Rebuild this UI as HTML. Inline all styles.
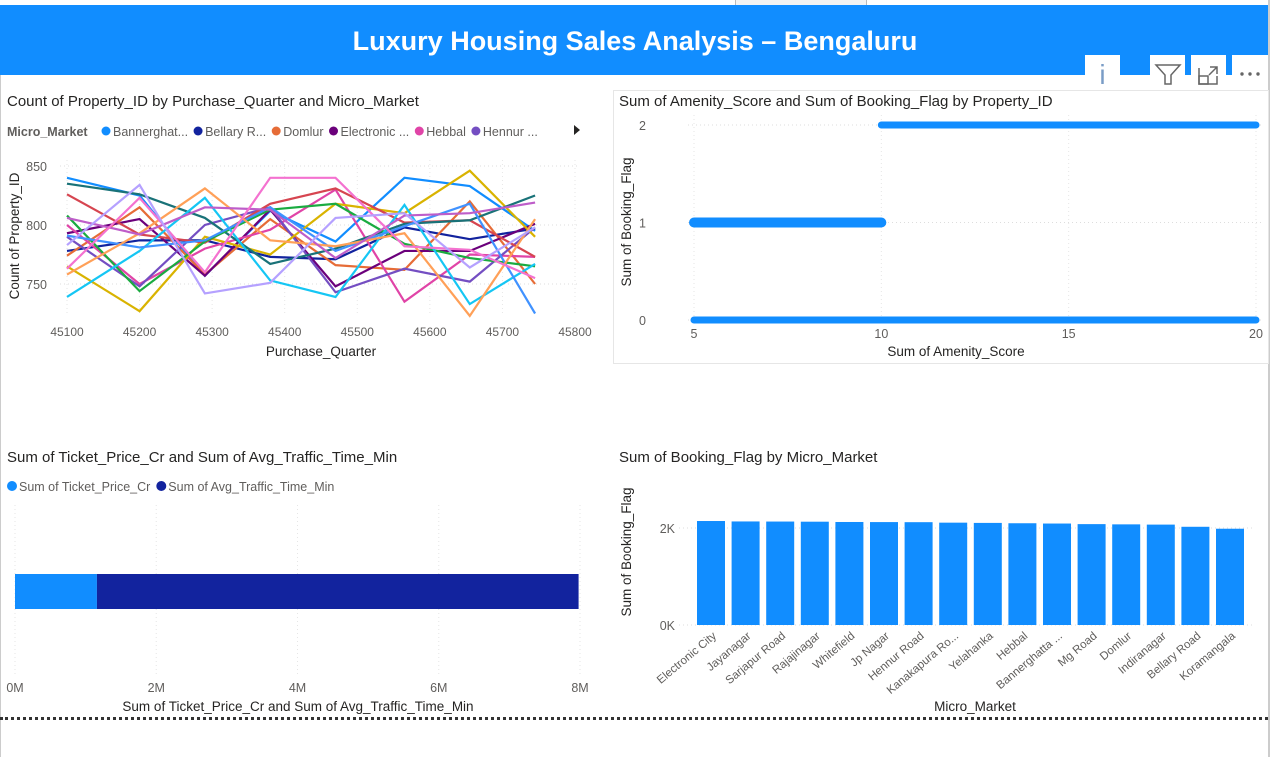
<!DOCTYPE html>
<html><head><meta charset="utf-8"><style>
body{margin:0;width:1278px;height:757px;background:#fff;font-family:"Liberation Sans",sans-serif;overflow:hidden;position:relative}
.t{position:absolute;font-size:15px;color:#252423;white-space:nowrap}
svg text{font-family:"Liberation Sans",sans-serif}
</style></head><body>
<div style="position:absolute;left:735px;top:0;width:130px;height:5px;border:1px solid #bbb;border-top:none;background:#f3f3f3"></div>
<div style="position:absolute;left:0;top:5px;width:1268px;height:70px;background:#118DFF"></div>
<div style="position:absolute;left:0;top:26px;width:1270px;text-align:center;color:#fff;font-weight:bold;font-size:27px">Luxury Housing Sales Analysis – Bengaluru</div>
<div style="position:absolute;left:1268px;top:0;width:2px;height:757px;background:#ccc"></div>
<div style="position:absolute;left:0;top:75px;width:1px;height:682px;background:#ccc"></div>
<div style="position:absolute;left:1085px;top:55px;width:35px;height:33px;background:#fff;color:#7a9cc6;font-size:28px;text-align:center;line-height:40px">i</div>
<svg style="position:absolute;left:1150px;top:55px" width="118" height="35">
<rect x="0" y="0" width="35" height="35" fill="#fff"/><rect x="41" y="0" width="35" height="35" fill="#fff"/><rect x="82" y="0" width="36" height="35" fill="#fff"/>
<path d="M6 10 L30 10 L21 20 L21 29 L15 29 L15 20 Z" fill="none" stroke="#666" stroke-width="1.5"/>
<g fill="none" stroke="#666" stroke-width="1.5"><path d="M49 13 L49 29 L67 29 L67 21"/><rect x="49" y="21" width="9" height="8"/><path d="M60 12 L67 12 L67 19 M67 12 L59 20"/></g>
<g fill="#666"><circle cx="92" cy="19" r="1.7"/><circle cx="100" cy="19" r="1.7"/><circle cx="108" cy="19" r="1.7"/></g>
</svg>

<div class="t" style="left:7px;top:93px">Count of Property_ID by Purchase_Quarter and Micro_Market</div>
<svg id="line" style="position:absolute;left:0;top:115px" width="600" height="250"></svg>

<div style="position:absolute;left:613px;top:90px;width:654px;height:272px;border:1px solid #e6e6e6"></div>
<div class="t" style="left:619px;top:93px">Sum of Amenity_Score and Sum of Booking_Flag by Property_ID</div>
<svg id="scatter" style="position:absolute;left:613px;top:110px" width="660" height="255"></svg>

<div class="t" style="left:7px;top:449px">Sum of Ticket_Price_Cr and Sum of Avg_Traffic_Time_Min</div>
<svg id="hbar" style="position:absolute;left:0;top:470px" width="610" height="250"></svg>

<div class="t" style="left:619px;top:449px">Sum of Booking_Flag by Micro_Market</div>
<svg id="bar" style="position:absolute;left:613px;top:470px" width="655" height="250"></svg>

<div style="position:absolute;left:0;top:717px;width:1268px;border-top:3px dotted #333"></div>

<script>
const NS="http://www.w3.org/2000/svg";
function mk(p,tag,a,txt){const e=document.createElementNS(NS,tag);for(const k in a)e.setAttribute(k,a[k]);if(txt!==undefined)e.textContent=txt;p.appendChild(e);return e;}

/* ---------- line chart ---------- */
const quarters=[45100,45200,45290,45380,45470,45565,45655,45745];
const xTicks=[45100,45200,45300,45400,45500,45600,45700,45800];
const yTicksLine=[750,800,850];
const seriesNames=["Bannerghatta Road","Bellary Road","Domlur","Electronic City","Hebbal","Hennur Road","Indiranagar","Jayanagar","Jp Nagar","Kanakapura Road","Koramangala","Mg Road","Rajajinagar","Sarjapur Road","Whitefield","Yelahanka"];
const seriesColors=["#118DFF","#12239E","#E66C37","#6B007B","#E044A7","#744EC2","#D9B300","#D64550","#197278","#1AAB40","#15C6F4","#4092FF","#FFA058","#BE5DC9","#F472D0","#B5A1FF"];
const s0=[840,825,757,812,786,840,833,795];
const s1=[778,787,787,773,771,798,788,797];
const s2=[774,815,758,805,766,762,820,750];
const s3=[793,805,757,813,748,778,778,801];
const s4=[800,750,780,796,830,735,775,773];
const s5=[790,748,800,815,743,763,752,798];
const s6=[765,727,790,775,818,810,846,790];
const s7=[826,792,785,818,831,802,804,773];
const s8=[835,826,806,767,780,801,804,825];
const s9=[808,744,786,813,818,784,772,765];
const s10=[739,778,823,753,739,817,733,767];
const s11=[791,781,787,815,778,799,818,725];
const s12=[758,793,831,787,782,793,723,805];
const s13=[806,792,815,813,772,808,810,819];
const s14=[763,823,760,840,840,782,779,755];
const s15=[783,834,742,751,806,810,764,798];
const allSeries=[s0,s1,s2,s3,s4,s5,s6,s7,s8,s9,s10,s11,s12,s13,s14,s15];
const legendLabels=["Bannerghat...","Bellary R...","Domlur","Electronic ...","Hebbal","Hennur ..."];
(function(){
 const svg=document.getElementById('line');
 const X=v=>67+(v-45100)/700*508, Y=v=>110-(v-800)*1.18;
 const lt=mk(svg,'text',{x:7,y:21,'font-size':12.5,'font-weight':'bold',fill:'#605E5C'},'Micro_Market');
 
 let lx=102;
 legendLabels.forEach((l,i)=>{const g=mk(svg,'g',{});
  
  mk(g,'circle',{cx:lx+4,cy:16,r:4.5,fill:seriesColors[i]});
  const t=mk(g,'text',{x:lx+11,y:21,'font-size':12.5,fill:'#605E5C'},l);
  lx+=11+t.getComputedTextLength()+6;});
 const arr=mk(svg,'path',{d:'M574 10 L580 15 L574 20 Z',fill:'#252423'});
 
 yTicksLine.forEach(v=>{mk(svg,'line',{x1:60,x2:580,y1:Y(v),y2:Y(v),stroke:'#ddd','stroke-dasharray':'1 3'});
  const t=mk(svg,'text',{x:47,y:Y(v)+5,'font-size':12.5,fill:'#605E5C','text-anchor':'end'},v);
  });
 xTicks.forEach(v=>{mk(svg,'line',{x1:X(v),x2:X(v),y1:45,y2:200,stroke:'#e6e6e6','stroke-dasharray':'1 3'});
  const t=mk(svg,'text',{x:X(v),y:221,'font-size':12,fill:'#605E5C','text-anchor':'middle'},v);
  });
 allSeries.forEach((s,i)=>{const p=mk(svg,'polyline',{points:s.map((v,j)=>X(quarters[j])+','+Y(v)).join(' '),fill:'none',stroke:seriesColors[i],'stroke-width':2.2});
  });
 const xt=mk(svg,'text',{x:321,y:241,'font-size':13.5,fill:'#252423','text-anchor':'middle'},'Purchase_Quarter');
 
 const yt=mk(svg,'text',{x:0,y:0,'font-size':13.5,fill:'#252423','text-anchor':'middle',transform:'translate(19,121) rotate(-90)'},'Count of Property_ID');
 
})();

/* ---------- scatter ---------- */
const scatterXTicks=[5,10,15,20];
const scatterYTicks=[0,1,2];
const clusterFlag=[1,0,2];
const clusterMinScore=[5,5,10];
const clusterMaxScore=[10,20,20];
(function(){
 const svg=document.getElementById('scatter');
 const X=v=>81+(v-5)/15*562, Y=v=>210-v*97.5;
 scatterYTicks.forEach(v=>{mk(svg,'line',{x1:75,x2:650,y1:Y(v),y2:Y(v),stroke:'#ddd','stroke-dasharray':'1 3'});
  const t=mk(svg,'text',{x:33,y:Y(v)+5,'font-size':12.5,fill:'#605E5C','text-anchor':'end'},v);
  });
 scatterXTicks.forEach(v=>{mk(svg,'line',{x1:X(v),x2:X(v),y1:5,y2:212,stroke:'#e6e6e6','stroke-dasharray':'1 3'});
  const t=mk(svg,'text',{x:X(v),y:228,'font-size':12.5,fill:'#605E5C','text-anchor':'middle'},v);
  });
 clusterFlag.forEach((f,i)=>{const w=f==2?7:(f==1?10:7);
  const l=mk(svg,'line',{x1:X(clusterMinScore[i]),x2:X(clusterMaxScore[i]),y1:Y(f),y2:Y(f),stroke:'#118DFF','stroke-width':w,'stroke-linecap':'round'});
  });
 const xt=mk(svg,'text',{x:343,y:246,'font-size':13.5,fill:'#252423','text-anchor':'middle'},'Sum of Amenity_Score');
 
 const yt=mk(svg,'text',{x:0,y:0,'font-size':13.5,fill:'#252423','text-anchor':'middle',transform:'translate(18,112) rotate(-90)'},'Sum of Booking_Flag');
 
})();

/* ---------- stacked horizontal bar ---------- */
const hbarSeries=["Sum of Ticket_Price_Cr","Sum of Avg_Traffic_Time_Min"];
const hbarValues=[1.16,6.82];
const hbarColors=["#118DFF","#12239E"];
const hbarTicks=[0,2,4,6,8];
(function(){
 const svg=document.getElementById('hbar');
 const X=v=>15+v/8*565;
 let lx=7;
 hbarSeries.forEach((n,i)=>{const g=mk(svg,'g',{});
  
  mk(g,'circle',{cx:lx+5,cy:16,r:5,fill:hbarColors[i]});
  const t=mk(g,'text',{x:lx+12,y:21,'font-size':12.5,fill:'#605E5C'},n);
  lx+=12+t.getComputedTextLength()+6;});
 hbarTicks.forEach(v=>{mk(svg,'line',{x1:X(v),x2:X(v),y1:35,y2:205,stroke:'#e6e6e6','stroke-dasharray':'1 3'});
  const t=mk(svg,'text',{x:X(v),y:222,'font-size':12.5,fill:'#605E5C','text-anchor':'middle'},v+'M');
  });
 let acc=0;
 hbarValues.forEach((v,i)=>{const r=mk(svg,'rect',{x:X(acc),y:104,width:X(acc+v)-X(acc),height:35,fill:hbarColors[i]});
  acc+=v;});
 const xt=mk(svg,'text',{x:298,y:241,'font-size':13.5,fill:'#252423','text-anchor':'middle'},'Sum of Ticket_Price_Cr and Sum of Avg_Traffic_Time_Min');
 
})();

/* ---------- vertical bar chart ---------- */
const markets=["Electronic City","Jayanagar","Sarjapur Road","Rajajinagar","Whitefield","Jp Nagar","Hennur Road","Kanakapura Ro...","Yelahanka","Hebbal","Bannerghatta ...","Mg Road","Domlur","Indiranagar","Bellary Road","Koramangala"];
const bookings=[2144,2135,2133,2130,2124,2122,2120,2110,2105,2098,2092,2080,2075,2070,2025,1985];
const barYTicks=[0,2000];
(function(){
 const svg=document.getElementById('bar');
 const Y=v=>155-v/2000*97, pitch=34.6, x0=84;
 barYTicks.forEach(v=>{mk(svg,'line',{x1:66,x2:640,y1:Y(v),y2:Y(v),stroke:'#ddd','stroke-dasharray':'1 3'});
  const t=mk(svg,'text',{x:62,y:Y(v)+5,'font-size':12.5,fill:'#605E5C','text-anchor':'end'},(v/1000)+'K');
  });
 markets.forEach((m,i)=>{const x=x0+i*pitch;
  const r=mk(svg,'rect',{x:x,y:Y(bookings[i]),width:28,height:Y(0)-Y(bookings[i]),fill:'#118DFF'});
  
  const t=mk(svg,'text',{x:0,y:0,'font-size':11.5,fill:'#605E5C','text-anchor':'end',transform:`translate(${x+20},${Y(0)+12}) rotate(-40)`},m);
  });
 const xt=mk(svg,'text',{x:362,y:241,'font-size':13.5,fill:'#252423','text-anchor':'middle'},'Micro_Market');
 
 const yt=mk(svg,'text',{x:0,y:0,'font-size':13.5,fill:'#252423','text-anchor':'middle',transform:'translate(18,82) rotate(-90)'},'Sum of Booking_Flag');
 
})();
</script>
</body></html>
